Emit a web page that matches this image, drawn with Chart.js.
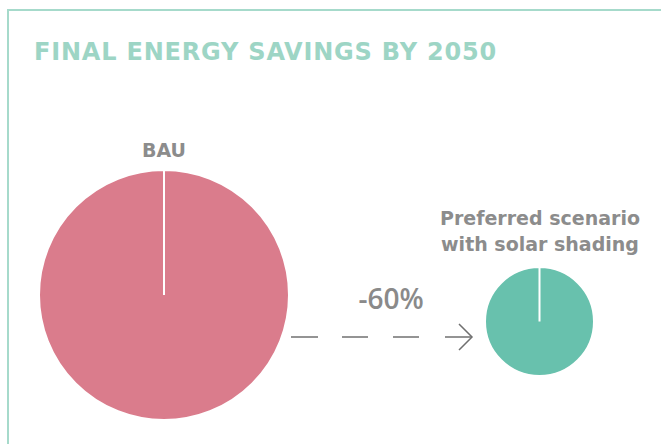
<!DOCTYPE html>
<html>
<head>
<meta charset="utf-8">
<script src="https://cdn.jsdelivr.net/npm/chart.js@4/dist/chart.umd.min.js"></script>
<style>
  html, body { margin: 0; padding: 0; background: #fff; }
  body { width: 661px; height: 444px; position: relative; overflow: hidden; font-family: "DejaVu Sans", sans-serif; }
  .frame { position: absolute; left: 7px; top: 9px; right: -5px; bottom: -5px; border-left: 2px solid #a6dacb; border-top: 2px solid #a6dacb; }
  .title { position: absolute; left: 34px; top: 38px; font-size: 24px; letter-spacing: 0.8px; font-weight: bold; color: #9dd5c5; white-space: nowrap; }
  .label { position: absolute; color: #8c8c8c; font-weight: bold; text-align: center; white-space: nowrap; }
  .pie { position: absolute; }
  svg { position: absolute; left: 0; top: 0; }
</style>
</head>
<body>
<div class="frame"></div>
<div class="title">FINAL ENERGY SAVINGS BY 2050</div>

<div id="lblBau" class="label" style="left:104px; top:139px; width:120px; font-size:19px;"></div>
<div id="lblPref" class="label" style="left:420px; top:205px; width:240px; font-size:19px; line-height:26px;"></div>
<div id="lblDiff" class="label" style="left:331px; top:279px; width:120px; font-size:28px; font-family:'Open Sans', sans-serif; font-weight:600; color:#8a8a8a;"></div>

<div class="pie" style="left:38px; top:169px; width:252px; height:252px;"><canvas id="pieBau"></canvas></div>
<div class="pie" style="left:484px; top:266px; width:111px; height:111px;"><canvas id="piePref"></canvas></div>

<svg width="661" height="444">
  <g stroke="#707070" stroke-width="1.5" fill="none">
    <line x1="291" y1="337" x2="318" y2="337"/>
    <line x1="342" y1="337" x2="368" y2="337"/>
    <line x1="393" y1="337" x2="419" y2="337"/>
    <line x1="445" y1="337" x2="472" y2="337"/>
    <polyline points="459,324 472,337 459,350"/>
  </g>
</svg>

<script>
const categories = ["BAU", "Preferred scenario\nwith solar shading"];
const energyUse = [100, 40];
const colors = ["#da7c8c", "#68c1ad"];

document.getElementById("lblBau").textContent = categories[0];
document.getElementById("lblPref").innerHTML = categories[1].replace("\n", "<br>");
const change = Math.round((energyUse[1] / energyUse[0] - 1) * 100);
document.getElementById("lblDiff").textContent = change + "%";

function makePie(id, index) {

    const ctx = document.getElementById(id);

    return new Chart(ctx, {

        type: "pie",

        data: {
            labels: [categories[index]],
            datasets: [
                {
                    data: [energyUse[index]],
                    backgroundColor: colors[index],
                    borderColor: "#ffffff",
                    borderWidth: 2,
                    hoverOffset: 0
                }
            ]
        },

        options: {
            responsive: true,
            maintainAspectRatio: false,
            animation: false,
            events: [],
            layout: { padding: 0 },
            plugins: {
                legend: { display: false },
                tooltip: { enabled: false }
            }
        }

    });

}

makePie("pieBau", 0);
makePie("piePref", 1);
</script>
</body>
</html>
